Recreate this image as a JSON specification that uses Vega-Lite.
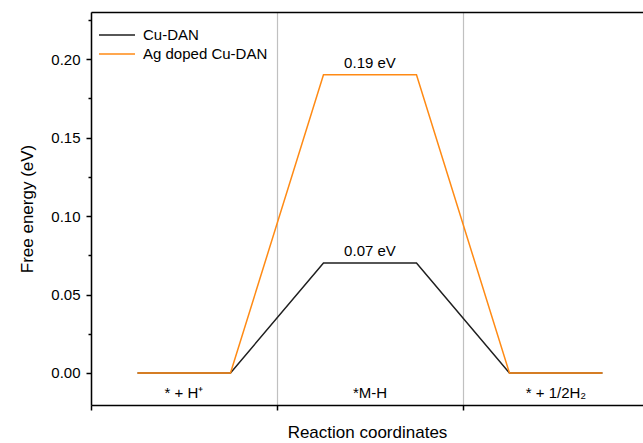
{
  "$schema": "https://vega.github.io/schema/vega-lite/v6.json",
  "width": 552,
  "height": 393,
  "autosize": {"type": "none"},
  "padding": {"left": 91, "top": 12, "right": 0, "bottom": 38},
  "background": "white",
  "config": {
    "font": "Liberation Sans",
    "view": {"stroke": null},
    "axis": {"labelFont": "Liberation Sans", "titleFont": "Liberation Sans", "titleFontWeight": "normal", "domainColor": "black", "tickColor": "black", "domainWidth": 1.5, "tickWidth": 1.5}
  },
  "datasets": {
    "lines": [
      {"x": 0.25, "energy": 0, "series": "Cu-DAN"},
      {"x": 0.75, "energy": 0, "series": "Cu-DAN"},
      {"x": 1.25, "energy": 0.07, "series": "Cu-DAN"},
      {"x": 1.75, "energy": 0.07, "series": "Cu-DAN"},
      {"x": 2.25, "energy": 0, "series": "Cu-DAN"},
      {"x": 2.75, "energy": 0, "series": "Cu-DAN"},
      {"x": 0.25, "energy": 0, "series": "Ag doped Cu-DAN"},
      {"x": 0.75, "energy": 0, "series": "Ag doped Cu-DAN"},
      {"x": 1.25, "energy": 0.19, "series": "Ag doped Cu-DAN"},
      {"x": 1.75, "energy": 0.19, "series": "Ag doped Cu-DAN"},
      {"x": 2.25, "energy": 0, "series": "Ag doped Cu-DAN"},
      {"x": 2.75, "energy": 0, "series": "Ag doped Cu-DAN"}
    ],
    "peaks": [
      {"x": 1.5, "energy": 0.19, "label": "0.19 eV"},
      {"x": 1.5, "energy": 0.07, "label": "0.07 eV"}
    ],
    "states": [
      {"x": 0.5, "energy": 0, "label": "* + H⁺"},
      {"x": 1.5, "energy": 0, "label": "*M-H"},
      {"x": 2.5, "energy": 0, "label": "* + 1/2H₂"}
    ]
  },
  "layer": [
    {
      "data": {"name": "lines"},
      "mark": {"type": "line", "strokeWidth": 1.5},
      "encoding": {
        "x": {"field": "x", "type": "quantitative", "scale": {"domain": [0, 2.968], "nice": false, "zero": false},
          "axis": {"title": "Reaction coordinates", "titleFontSize": 17, "titlePadding": 14, "labels": false, "values": [0, 1, 2, 3], "tickSize": 5, "grid": true, "gridColor": "#c0c0c0", "gridWidth": 1.2, "titleColor": "black"}},
        "y": {"field": "energy", "type": "quantitative", "scale": {"domain": [-0.0204, 0.23], "nice": false, "zero": false},
          "axis": {"title": "Free energy (eV)", "titleFontSize": 17, "titlePadding": 14, "titleColor": "black", "grid": false,
            "values": [0, 0.025, 0.05, 0.075, 0.1, 0.125, 0.15, 0.175, 0.2, 0.225],
            "labelExpr": "round(datum.value*1000) % 50 == 0 ? format(datum.value, '.2f') : ''",
            "labelFontSize": 15, "labelColor": "black", "labelPadding": 6,
            "tickSize": {"condition": {"test": "round(datum.value*1000) % 50 == 0", "value": 5}, "value": 3}}},
        "color": {"field": "series", "type": "nominal",
          "scale": {"domain": ["Cu-DAN", "Ag doped Cu-DAN"], "range": ["#1f1f1f", "#ff8a14"]},
          "legend": {"title": null, "orient": "none", "legendX": 16, "legendY": 13, "symbolType": "M-2,0H2", "symbolSize": 324, "symbolStrokeWidth": 1.5, "labelFontSize": 15, "labelColor": "black", "labelOffset": 16, "rowPadding": 1}}
      }
    },
    {
      "data": {"name": "lines"},
      "mark": {"type": "rule", "opacity": 0},
      "encoding": {
        "x": {"field": "x", "type": "quantitative", "axis": {"orient": "top", "title": null, "labels": false, "ticks": false, "grid": false}}
      }
    },
    {
      "data": {"name": "peaks"},
      "mark": {"type": "text", "fontSize": 15, "baseline": "bottom", "dy": -4, "color": "black"},
      "encoding": {
        "x": {"field": "x", "type": "quantitative", "axis": null},
        "y": {"field": "energy", "type": "quantitative"},
        "text": {"field": "label"}
      }
    },
    {
      "data": {"name": "states"},
      "mark": {"type": "text", "fontSize": 15, "baseline": "middle", "dy": 20, "color": "black"},
      "encoding": {
        "x": {"field": "x", "type": "quantitative", "axis": null},
        "y": {"field": "energy", "type": "quantitative"},
        "text": {"field": "label"}
      }
    }
  ],
  "resolve": {"axis": {"x": "independent"}}
}
